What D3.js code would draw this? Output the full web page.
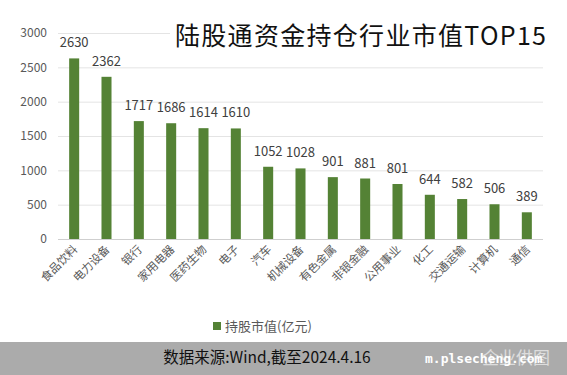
<!DOCTYPE html>
<html>
<head>
<meta charset="utf-8">
<script src="https://cdn.jsdelivr.net/npm/d3@7"></script>
<style>
  body { margin: 0; background: #fff; }
  svg { display: block; font-family: "Noto Sans CJK SC", "Noto Sans", sans-serif; }
</style>
</head>
<body>
<svg width="567" height="375"></svg>
<script>
// 行业 / 持股市值(亿元)
const industries = ['食品饮料', '电力设备', '银行', '家用电器', '医药生物', '电子', '汽车', '机械设备',
    '有色金属', '非银金融', '公用事业', '化工', '交通运输', '计算机', '通信'];
const values = [2630, 2362, 1717, 1686, 1614, 1610, 1052, 1028, 901, 881, 801, 644, 582, 506, 389];
const yTicks = [0, 500, 1000, 1500, 2000, 2500, 3000];

let svg = d3.select('svg');
let width = +svg.attr('width');
let height = +svg.attr('height');

let x = d3.scaleBand()
    .domain(industries)
    .range([58, 543])
    .paddingInner(0.69)
    .paddingOuter(0.345);

let y = d3.scaleLinear()
    .domain([0, 3000])
    .range([239, 33]);

// gridlines
svg.append('g').attr('class', 'grid')
    .selectAll('line')
    .data(yTicks)
    .join('line')
    .attr('x1', 58).attr('x2', 543)
    .attr('y1', d => y(d) + 0.5).attr('y2', d => y(d) + 0.5)
    .attr('stroke', d => d === 0 ? '#cfcfcf' : '#e4e4e4')
    .attr('stroke-width', 1);

// y axis labels
svg.append('g').attr('class', 'y-axis')
    .selectAll('text')
    .data(yTicks)
    .join('text')
    .attr('x', 47)
    .attr('y', d => y(d))
    .attr('dy', '0.35em')
    .attr('text-anchor', 'end')
    .attr('fill', '#595959')
    .style('font-size', '12px')
    .text(d => d);

// title (white box hides gridline behind it)
svg.append('rect')
    .attr('x', 170).attr('y', 20).attr('width', 385).attr('height', 30)
    .attr('fill', '#fff');
svg.append('text')
    .attr('x', 175).attr('y', 45)
    .attr('fill', '#111')
    .style('font-size', '25px')
    .style('letter-spacing', '1.3px')
    .style('font-family', '"Noto Sans CJK SC", sans-serif')
    .text('陆股通资金持仓行业市值TOP15');

// bars
svg.append('g').attr('class', 'bars')
    .selectAll('rect')
    .data(values)
    .join('rect')
    .attr('x', (d, i) => x(industries[i]))
    .attr('y', d => y(d))
    .attr('width', x.bandwidth())
    .attr('height', d => y(0) - y(d))
    .attr('fill', '#548235');

// value labels
svg.append('g').attr('class', 'labels')
    .selectAll('text')
    .data(values)
    .join('text')
    .attr('x', (d, i) => x(industries[i]) + x.bandwidth() / 2)
    .attr('y', d => y(d) - 11)
    .attr('text-anchor', 'middle')
    .attr('fill', '#404040')
    .style('font-size', '13px')
    .text(d => d);

// category labels, rotated
svg.append('g').attr('class', 'x-axis')
    .selectAll('text')
    .data(industries)
    .join('text')
    .attr('transform', d => 'translate(' + (x(d) + x.bandwidth() / 2 + 4) + ',250) rotate(-45)')
    .attr('text-anchor', 'end')
    .attr('fill', '#595959')
    .style('font-size', '11.5px')
    .text(d => d);

// legend
svg.append('rect')
    .attr('x', 213).attr('y', 322).attr('width', 8).attr('height', 8)
    .attr('fill', '#548235');
svg.append('text')
    .attr('x', 225).attr('y', 331)
    .attr('fill', '#595959')
    .style('font-size', '13px')
    .text('持股市值(亿元)');

// source band
svg.append('rect')
    .attr('x', 0).attr('y', 342).attr('width', width).attr('height', height - 342)
    .attr('fill', '#ababab');
svg.append('text')
    .attr('x', 267).attr('y', 363)
    .attr('text-anchor', 'middle')
    .attr('fill', '#111')
    .style('font-size', '15.5px')
    .text('数据来源:Wind,截至2024.4.16');

// watermark
svg.append('text')
    .attr('x', 425).attr('y', 363)
    .attr('fill', '#fff')
    .style('font-size', '13px')
    .style('font-weight', 'bold')
    .style('font-family', '"DejaVu Sans Mono", monospace')
    .text('m.plsecheng.com');
svg.append('text')
    .attr('x', 482).attr('y', 364)
    .attr('fill', '#fff')
    .attr('opacity', 0.6)
    .style('font-size', '17px')
    .text('企业供图');
</script>
</body>
</html>
